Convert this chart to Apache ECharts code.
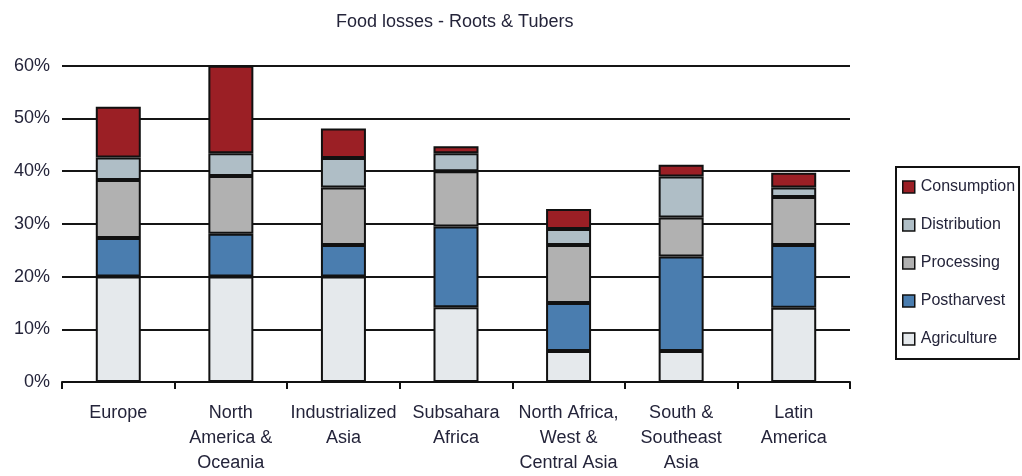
<!DOCTYPE html>
<html>
<head>
<meta charset="utf-8">
<style>
  html, body { margin: 0; padding: 0; background: #fff; }
  #chart { width: 1022px; height: 476px; }
</style>
<script src="https://cdn.jsdelivr.net/npm/echarts@6/dist/echarts.min.js"></script>
</head>
<body>
<div id="chart"></div>
<script>
// Regions along the x axis
const regions = [
  'Europe',
  'North\nAmerica &\nOceania',
  'Industrialized\nAsia',
  'Subsahara\nAfrica',
  'North Africa,\nWest &\nCentral Asia',
  'South &\nSoutheast\nAsia',
  'Latin\nAmerica'
];

// Share of production lost at each stage of the supply chain (%)
const agriculture  = [20, 20, 20, 14.2, 5.9, 5.9, 14.1];
const postharvest  = [7.3, 8.1, 6.0, 15.3, 9.1, 17.9, 11.9];
const processing   = [11.0, 11.0, 10.9, 10.5, 11.0, 7.4, 9.1];
const distribution = [4.3, 4.3, 5.6, 3.4, 3.0, 7.8, 1.8];
const consumption  = [9.6, 16.6, 5.6, 1.3, 3.8, 2.2, 2.8];

const legendOrder = ['Consumption', 'Distribution', 'Processing', 'Postharvest', 'Agriculture'];

const FONT = 'Liberation Sans, Arial, sans-serif';
const TEXT = '#24243a';

const stages = [
  { name: 'Agriculture',  data: agriculture,  color: '#e5e9ec' },
  { name: 'Postharvest',  data: postharvest,  color: '#4a7daf' },
  { name: 'Processing',   data: processing,   color: '#b1b1b1' },
  { name: 'Distribution', data: distribution, color: '#afbec6' },
  { name: 'Consumption',  data: consumption,  color: '#9b1f25' }
];

const chart = echarts.init(document.getElementById('chart'), null, { renderer: 'canvas' });

chart.setOption({
  animation: false,
  backgroundColor: '#fff',
  title: {
    text: 'Food losses - Roots & Tubers',
    left: 336,
    top: 13,
    padding: 0,
    textStyle: { fontFamily: FONT, fontSize: 18, fontWeight: 'normal', color: TEXT }
  },
  legend: {
    orient: 'vertical',
    left: 896,
    top: 167,
    data: legendOrder,
    icon: 'rect',
    itemWidth: 12,
    itemHeight: 12,
    itemGap: 22,
    padding: [12, 4, 12, 6],
    borderColor: '#111',
    borderWidth: 2,
    borderRadius: 0,
    selectedMode: false,
    textStyle: { fontFamily: FONT, fontSize: 16, lineHeight: 16, color: TEXT, padding: [0, 0, 0, 1] },
    itemStyle: { borderColor: '#111', borderWidth: 1.5 }
  },
  grid: { left: 62, right: 172, top: 65.7, bottom: 89.3, containLabel: false },
  xAxis: {
    type: 'category',
    data: regions,
    axisLine: { lineStyle: { color: '#111', width: 2 } },
    axisTick: { show: true, length: 7, lineStyle: { color: '#111', width: 2 } },
    axisLabel: {
      fontFamily: FONT, fontSize: 18, color: TEXT, lineHeight: 25, margin: 19, interval: 0
    }
  },
  yAxis: {
    type: 'value',
    min: 0,
    max: 60,
    interval: 10,
    axisLine: { show: false },
    axisTick: { show: false },
    axisLabel: {
      fontFamily: FONT, fontSize: 18, color: TEXT, margin: 12,
      formatter: v => v + '%'
    },
    splitLine: { lineStyle: { color: '#151515', width: 2 } }
  },
  series: stages.map(s => ({
    name: s.name,
    type: 'bar',
    stack: 'loss',
    data: s.data,
    barWidth: 45,
    itemStyle: { color: s.color, borderColor: '#111', borderWidth: 2 }
  }))
});
</script>
</body>
</html>
